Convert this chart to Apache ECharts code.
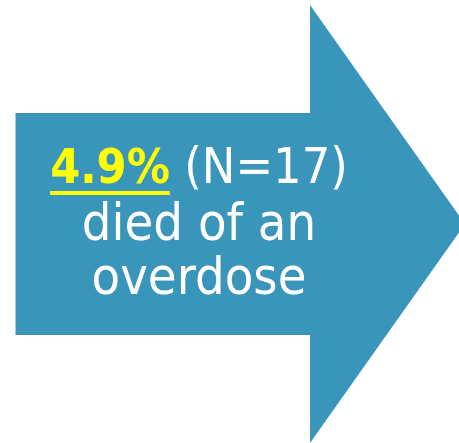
<!DOCTYPE html>
<html>
<head>
<meta charset="utf-8">
<script src="https://cdn.jsdelivr.net/npm/echarts@6/dist/echarts.min.js"></script>
<style>
  html, body { margin: 0; padding: 0; background: #fff; }
  #main { width: 459px; height: 443px; }
</style>
</head>
<body>
<div id="main"></div>
<script>
// arrow outline, in px of the original slide
const arrowX = [15.5, 310, 310, 465, 310, 310, 15.5]
const arrowY = [113, 113, 5, 224, 443, 335, 335]

const pct = '4.9%'
const count = ' (N=17)'
const lines = ['died of an', 'overdose']

const chart = echarts.init(document.getElementById('main'))

const font = '"DejaVu Sans Condensed", "DejaVu Sans", sans-serif'
const size = 52
const cx = 199

// measure the yellow part so the underline fits under it
const ctx = document.createElement('canvas').getContext('2d')
ctx.font = 'bold 48px ' + font
const wA = ctx.measureText(pct).width
ctx.font = '50px ' + font
const wB = ctx.measureText(count).width
const left = cx - (wA + wB) / 2

chart.setOption({
  animation: false,
  grid: { left: 0, right: 0, top: 0, bottom: 0 },
  xAxis: { type: 'value', min: 0, max: 459, show: false },
  yAxis: { type: 'value', min: 0, max: 443, inverse: true, show: false },
  series: [{
    type: 'custom',
    data: [0],
    z: 1,
    renderItem: function (params, api) {
      const pts = arrowX.map((x, i) => api.coord([x, arrowY[i]]))
      return {
        type: 'polygon',
        shape: { points: pts },
        style: { fill: '#3995BA' }
      }
    }
  }],
  graphic: [
    {
      type: 'text',
      z: 100,
      x: cx, y: 196.5,
      style: {
        text: '{a|' + pct + '}{b|' + count + '}',
        align: 'center',
        verticalAlign: 'bottom',
        rich: {
          a: { fontFamily: font, fontSize: 48, fontWeight: 'bold', fill: '#FFFF00', lineHeight: size },
          b: { fontFamily: font, fontSize: 50, fill: '#fff', lineHeight: size }
        }
      }
    },
    {
      type: 'rect',
      z: 100,
      shape: { x: left, y: 191, width: wA, height: 4 },
      style: { fill: '#FFFF00' }
    },
    {
      type: 'text',
      z: 100,
      x: cx, y: 252,
      style: {
        text: lines[0], align: 'center', verticalAlign: 'bottom',
        fontFamily: font, fontSize: size, fill: '#fff', lineHeight: size
      }
    },
    {
      type: 'text',
      z: 100,
      x: cx, y: 306,
      style: {
        text: lines[1], align: 'center', verticalAlign: 'bottom',
        fontFamily: font, fontSize: size, fill: '#fff', lineHeight: size
      }
    }
  ]
})
</script>
</body>
</html>
